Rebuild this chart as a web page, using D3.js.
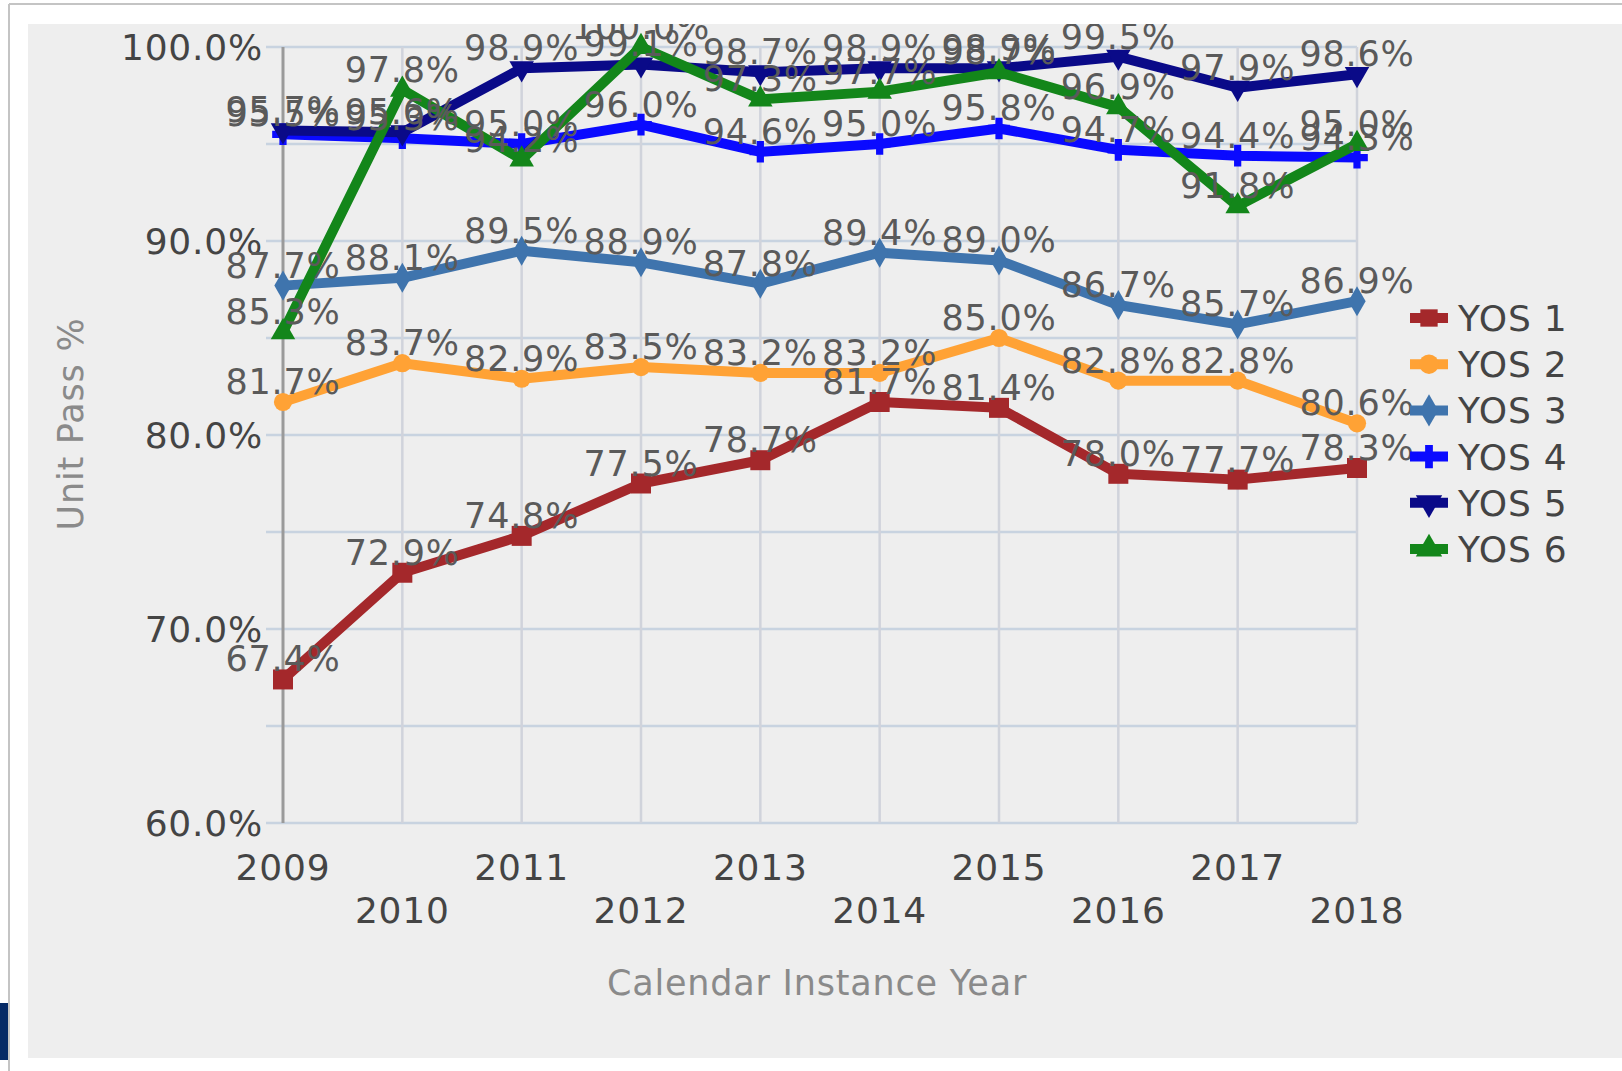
<!DOCTYPE html>
<html>
<head>
<meta charset="UTF-8">
<script src="https://d3js.org/d3.v7.min.js"></script>
<style>
  body { margin: 0; background: #fff; }
  svg text { font-family: "DejaVu Sans", sans-serif; letter-spacing: 0.8px; }
</style>
</head>
<body>
<svg id="chart" width="1622" height="1071"></svg>
<script>
// chart values
const years = ['2009', '2010', '2011', '2012', '2013', '2014', '2015', '2016', '2017', '2018'];
const seriesNames = ['YOS 1', 'YOS 2', 'YOS 3', 'YOS 4', 'YOS 5', 'YOS 6'];
const yos1 = [67.4, 72.9, 74.8, 77.5, 78.7, 81.7, 81.4, 78.0, 77.7, 78.3];
const yos2 = [81.7, 83.7, 82.9, 83.5, 83.2, 83.2, 85.0, 82.8, 82.8, 80.6];
const yos3 = [87.7, 88.1, 89.5, 88.9, 87.8, 89.4, 89.0, 86.7, 85.7, 86.9];
const yos4 = [95.5, 95.3, 95.0, 96.0, 94.6, 95.0, 95.8, 94.7, 94.4, 94.3];
const yos5 = [95.7, 95.6, 98.9, 99.1, 98.7, 98.9, 98.9, 99.5, 97.9, 98.6];
const yos6 = [85.3, 97.8, 94.2, 100.0, 97.3, 97.7, 98.7, 96.9, 91.8, 95.0];
const yTicks = [60, 70, 80, 90, 100];
const yGrid = [60, 65, 70, 75, 80, 85, 90, 95, 100];

const colors = ['#a4282b', '#ffa235', '#3f74ad', '#0a0aff', '#0a0a88', '#13861a'];
const symbols = [d3.symbolSquare, d3.symbolCircle, d3.symbolDiamond, d3.symbolCross, d3.symbolTriangle, d3.symbolTriangle];
const allSeries = [yos1, yos2, yos3, yos4, yos5, yos6];

const svg = d3.select('#chart');

// page frame
svg.append('line').attr('x1', 9).attr('x2', 1622).attr('y1', 4).attr('y2', 4)
  .attr('stroke', '#c4c4c4').attr('stroke-width', 2);
svg.append('line').attr('x1', 9).attr('x2', 9).attr('y1', 4).attr('y2', 1071)
  .attr('stroke', '#c4c4c4').attr('stroke-width', 2);
svg.append('rect').attr('x', 0).attr('y', 1003).attr('width', 8).attr('height', 57).attr('fill', '#062a66');

// grey panel, clips everything inside it
const panel = svg.append('svg')
  .attr('x', 28).attr('y', 24).attr('width', 1594).attr('height', 1034);
panel.append('rect').attr('width', 1594).attr('height', 1034).attr('fill', '#eeeeee');
const g = panel.append('g').attr('transform', 'translate(-28,-24)');

const x = d3.scalePoint().domain(years).range([283, 1357]);
const y = d3.scaleLinear().domain([60, 100]).range([823, 47]);

// grid
g.selectAll('.hgrid').data(yGrid).enter().append('line')
  .attr('x1', 266).attr('x2', 1357)
  .attr('y1', d => y(d)).attr('y2', d => y(d))
  .attr('stroke', '#c8d3e0').attr('stroke-width', 2.5);
g.selectAll('.vgrid').data(years.slice(1)).enter().append('line')
  .attr('x1', d => x(d)).attr('x2', d => x(d))
  .attr('y1', y(100)).attr('y2', y(60))
  .attr('stroke', '#d0d3db').attr('stroke-width', 2.5);
g.append('line').attr('x1', 283).attr('x2', 283).attr('y1', y(100)).attr('y2', y(60))
  .attr('stroke', '#9a9a9a').attr('stroke-width', 3);

// y tick labels
g.selectAll('.ytick').data(yTicks).enter().append('text')
  .attr('x', 263).attr('y', d => y(d)).attr('dy', '0.36em')
  .attr('text-anchor', 'end').attr('font-size', 36).attr('fill', '#444')
  .text(d => d.toFixed(1) + '%');

// x tick labels, staggered in two rows
g.selectAll('.xtick').data(years).enter().append('text')
  .attr('x', d => x(d)).attr('y', (d, i) => i % 2 === 0 ? 880 : 923)
  .attr('text-anchor', 'middle').attr('font-size', 36).attr('fill', '#444')
  .text(d => d);

// axis titles
g.append('text').attr('x', 817).attr('y', 995).attr('text-anchor', 'middle')
  .attr('font-size', 35).attr('fill', '#8a8a8a').text('Calendar Instance Year');
g.append('text').attr('transform', 'translate(83,424) rotate(-90)').attr('text-anchor', 'middle')
  .attr('font-size', 35).attr('fill', '#8a8a8a').text('Unit Pass %');

// lines
const line = d3.line().x((d, i) => x(years[i])).y(d => y(d));
allSeries.forEach((s, k) => {
  g.append('path').datum(s).attr('d', line).attr('fill', 'none')
    .attr('stroke', colors[k]).attr('stroke-width', 10).attr('stroke-linejoin', 'round');
  g.selectAll('.m' + k).data(s).enter().append('path')
    .attr('d', d3.symbol().type(symbols[k]).size(k === 0 ? 400 : 260))
    .attr('transform', (d, i) => `translate(${x(years[i])},${y(d)})` + (k === 4 ? ' rotate(180)' : ''))
    .attr('fill', colors[k]);
});

// item labels
allSeries.forEach((s, k) => {
  g.selectAll('.l' + k).data(s).enter().append('text')
    .attr('x', (d, i) => x(years[i])).attr('y', d => y(d) - 8)
    .attr('text-anchor', 'middle').attr('font-size', 35).attr('fill', '#5a5a5a')
    .text(d => d.toFixed(1) + '%');
});

// legend
const legend = g.selectAll('.legend').data(seriesNames).enter().append('g')
  .attr('transform', (d, i) => `translate(1429,${318 + i * 46.2})`);
legend.append('line').attr('x1', -19).attr('x2', 19)
  .attr('stroke', (d, i) => colors[i]).attr('stroke-width', 10);
legend.append('path')
  .attr('d', (d, i) => d3.symbol().type(symbols[i]).size(300)())
  .attr('transform', (d, i) => i === 4 ? 'rotate(180)' : null)
  .attr('fill', (d, i) => colors[i]);
legend.append('text').attr('x', 29).attr('dy', '0.36em')
  .attr('font-size', 36).attr('fill', '#444').text(d => d);
</script>
</body>
</html>
